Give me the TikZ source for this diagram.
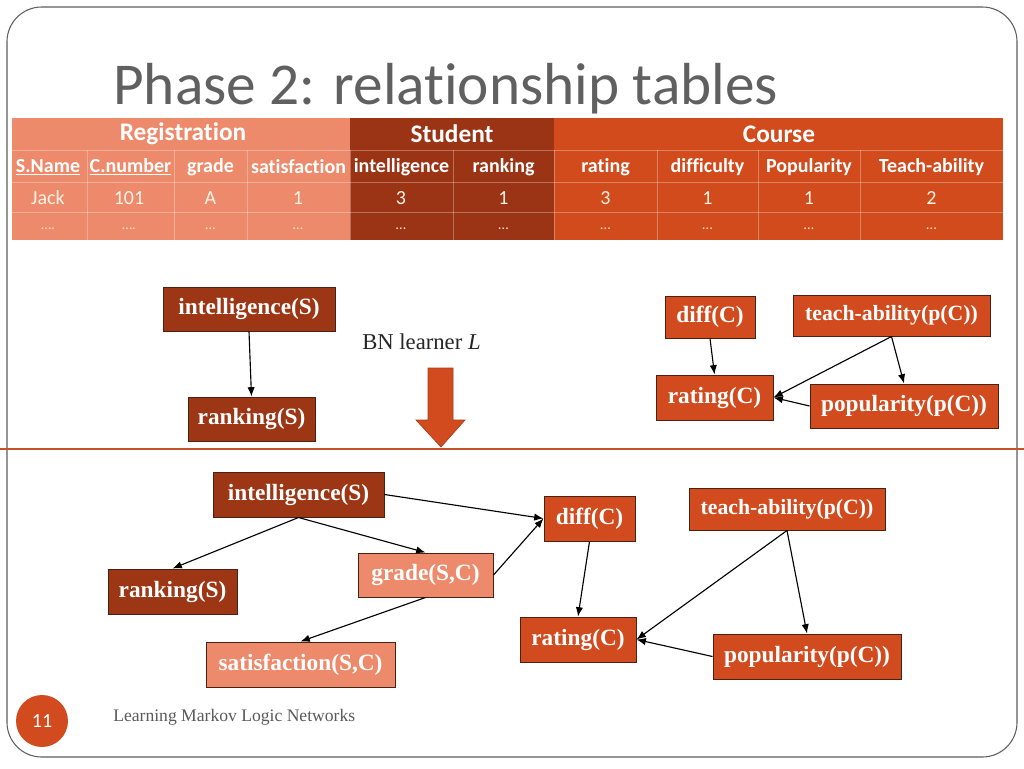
\documentclass[tikz,border=0pt]{standalone}
\usepackage{fontspec}
\setmainfont{Liberation Serif}
\newfontfamily\calib[Ligatures=NoCommon]{Carlito}
\usetikzlibrary{arrows.meta}
\definecolor{regc}{HTML}{EC8A6B}
\definecolor{stuc}{HTML}{9B3414}
\definecolor{crsc}{HTML}{D14B1C}
\definecolor{ndark}{HTML}{9C3614}
\definecolor{nsalm}{HTML}{ED8A6B}
\definecolor{norng}{HTML}{D24B1E}
\definecolor{nborder}{HTML}{4A2214}
\definecolor{titlegray}{HTML}{606060}
\definecolor{footgray}{HTML}{5A5A5A}
\definecolor{framegray}{HTML}{5E5E5E}
\definecolor{hline}{HTML}{C4522A}
\tikzset{
  grp/.style={font=\calib\bfseries\fontsize{19}{22}\selectfont, text=white, inner sep=0pt},
  colh/.style={font=\calib\bfseries\fontsize{15}{17}\selectfont, text=white, inner sep=0pt},
  dat/.style={font=\calib\fontsize{15}{17}\selectfont, text=white!90!orange, inner sep=0pt},
  dots/.style={font=\calib\fontsize{11}{13}\selectfont, text=white!75!orange, inner sep=0pt},
  bn/.style={draw=nborder, line width=0.75pt, text=white, inner sep=0pt,
     font=\bfseries\fontsize{17.5}{20}\selectfont},
  bnsmall/.style={bn, font=\bfseries\fontsize{16.3}{19}\selectfont},
  dk/.style={fill=ndark},
  sm/.style={fill=nsalm},
  og/.style={fill=norng},
  edge/.style={-{Latex[length=7pt,width=5.5pt]}, line width=0.85pt, black},
  gridl/.style={white, opacity=0.3, line width=0.5pt}
}
\begin{document}
\begin{tikzpicture}[x=0.75pt,y=-0.75pt]
\useasboundingbox (0,0) rectangle (1024,768);
\fill[white] (0,0) rectangle (1024,768);
% slide frame
\draw[framegray, line width=0.8pt, rounded corners=26pt] (7,7) rectangle (1017,757);
% title
\node[anchor=base west, inner sep=0pt, text=titlegray, font=\calib\fontsize{44.5}{50}\selectfont] (title) at (113,104) {Phase 2: relationship tables};
% table
\fill[regc] (12,118) rectangle (350,240);
\fill[stuc] (350,118) rectangle (554,240);
\fill[crsc] (554,118) rectangle (1003,240);
\foreach \yy in {150,182,212} \draw[gridl] (12,\yy) -- (1003,\yy);
\foreach \xx in {87,174,247,453,657,758,860} \draw[gridl] (\xx,150) -- (\xx,240);
\draw[gridl] (350,150) -- (350,240);
\draw[gridl] (554,150) -- (554,240);
\node[grp] (hreg) at (183,134) {Registration};
\node[grp] (hstu) at (452,134) {Student};
\node[grp] (hcrs) at (779,134) {Course};
\node[colh] (c1) at (48,167) {\underline{S.Name}};
\node[colh] (c2) at (130.5,167) {\underline{C.number}};
\node[colh] (c3) at (210.5,167) {grade};
\node[colh] (c4) at (298.5,167) {satisfaction};
\node[colh] (c5) at (401.5,167) {intelligence};
\node[colh] (c6) at (503.5,167) {ranking};
\node[colh] (c7) at (605.5,167) {rating};
\node[colh] (c8) at (707.5,167) {difficulty};
\node[colh] (c9) at (809,167) {Popularity};
\node[colh] (c10) at (931.5,167) {Teach-ability};
\node[dat] (d1) at (48,198) {Jack};
\node[dat] (d2) at (129,198) {101};
\node[dat] (d3) at (210.5,198) {A};
\node[dat] (d4) at (298,198) {1};
\node[dat] (d5) at (401,198) {3};
\node[dat] (d6) at (503.5,198) {1};
\node[dat] (d7) at (605.5,198) {3};
\node[dat] (d8) at (707.5,198) {1};
\node[dat] (d9) at (809,198) {1};
\node[dat] (d10) at (931.5,198) {2};
\node[dots] (e1) at (48,229) {….};
\node[dots] (e2) at (129,229) {….};
\node[dots] (e3) at (210.5,229) {…};
\node[dots] (e4) at (298,229) {…};
\node[dots] (e5) at (401,229) {…};
\node[dots] (e6) at (503.5,229) {…};
\node[dots] (e7) at (605.5,229) {…};
\node[dots] (e8) at (707.5,229) {…};
\node[dots] (e9) at (809,229) {…};
\node[dots] (e10) at (931.5,229) {…};
% upper networks
\node[bn, dk, minimum width=129pt, minimum height=33pt] (iu) at (249,309) {intelligence(S)};
\node[bn, dk, minimum width=95.25pt, minimum height=33pt] (ru) at (251.5,419) {ranking(S)};
\node[bn, og, minimum width=67.5pt, minimum height=31.5pt] (du) at (710,317) {diff(C)};
\node[bnsmall, og, minimum width=147.75pt, minimum height=30.75pt] (tu) at (891.5,315.5) {teach-ability(p(C))};
\node[bn, og, minimum width=87.75pt, minimum height=33.75pt] (rtu) at (714.5,397.5) {rating(C)};
\node[bn, og, minimum width=141pt, minimum height=33pt] (pu) at (904,406) {popularity(p(C))};
\draw[edge] (iu.south) -- (ru.north);
\draw[edge] (du.south) -- (rtu.north);
\draw[edge] (tu.south) -- (pu.north);
\draw[edge] (tu.south) -- (rtu.east);
\draw[edge] (pu.west) -- (rtu.east);
% learner label and arrow
\node[anchor=west, inner sep=0pt, text=black!85, font=\fontsize{17}{20}\selectfont] (bnl) at (362,342) {BN learner \textit{L}};
\filldraw[fill=norng, draw=norng!80!black, line width=0.5pt] (428,368) -- (453,368) -- (453,420) -- (465,420) -- (441,447) -- (416,420) -- (428,420) -- cycle;
% separator line
\draw[hline, line width=0.9pt] (0,449) -- (1024,449);
% lower network
\node[bn, dk, minimum width=128.25pt, minimum height=33.75pt] (il) at (298.5,494.5) {intelligence(S)};
\node[bn, dk, minimum width=96.75pt, minimum height=33.75pt] (rl) at (172.5,591.5) {ranking(S)};
\node[bn, sm, minimum width=101.25pt, minimum height=33pt] (gl) at (425.5,575) {grade(S,C)};
\node[bn, sm, minimum width=141.75pt, minimum height=33.75pt] (sl) at (300.5,664.5) {satisfaction(S,C)};
\node[bn, og, minimum width=68.25pt, minimum height=33.75pt] (dl) at (589.5,518.5) {diff(C)};
\node[bnsmall, og, minimum width=147pt, minimum height=31.5pt] (tl) at (787,509) {teach-ability(p(C))};
\node[bn, og, minimum width=87pt, minimum height=33.75pt] (rtl) at (578,639.5) {rating(C)};
\node[bn, og, minimum width=141pt, minimum height=33.75pt] (pl) at (807,656.5) {popularity(p(C))};
\draw[edge] (il.south) -- (rl.north);
\draw[edge] (il.south) -- (gl.north);
\draw[edge] (il.east) -- (dl.west);
\draw[edge] (gl.east) -- (dl.west);
\draw[edge] (gl.south) -- (sl.north);
\draw[edge] (dl.south) -- (rtl.north);
\draw[edge] (tl.south) -- (pl.north);
\draw[edge] (tl.south) -- (rtl.east);
\draw[edge] (pl.west) -- (rtl.east);
% footer
\fill[norng] (42,721) circle (26);
\node[inner sep=0pt, text=white, font=\calib\fontsize{15}{18}\selectfont] (pnum) at (42,721) {11};
\node[anchor=west, inner sep=0pt, text=footgray, font=\fontsize{13.2}{16}\selectfont] (foot) at (113,717) {Learning Markov Logic Networks};
\end{tikzpicture}
\end{document}
